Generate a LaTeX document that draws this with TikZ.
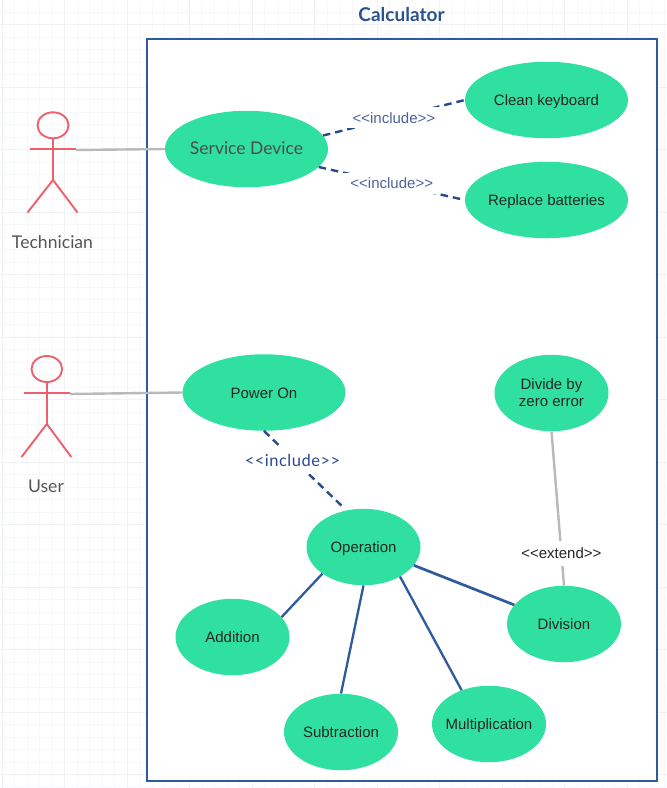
\documentclass[tikz,border=0pt]{standalone}
\usepackage{fontspec}
\setmainfont{Liberation Sans}
\newfontfamily\latofont{Lato}
\newfontfamily\latowide[LetterSpace=3]{Lato}
\usepackage{xcolor}
\definecolor{casegreen}{HTML}{30E0A1}
\definecolor{frameblue}{HTML}{2F5B9E}
\definecolor{dashblue}{HTML}{2A4A8C}
\definecolor{actorred}{HTML}{EF5F6C}
\definecolor{assocgray}{HTML}{B9B9B9}
\definecolor{gridminor}{HTML}{F7F8F9}
\definecolor{gridmajor}{HTML}{F1F2F3}
\definecolor{labelgray}{HTML}{555555}
\tikzset{
  usecase/.style={ellipse,fill=casegreen,inner sep=-12pt,minimum width=114pt,minimum height=76.5pt,
    font=\fontsize{15}{17}\selectfont,align=center,text=black!85,text height=11.5pt,text depth=0pt},
  widecase/.style={usecase,minimum width=163pt},
  actorline/.style={draw=actorred,line width=1.9pt},
  assoc/.style={draw=assocgray,line width=2.4pt},
  inclline/.style={draw=dashblue,line width=2.4pt,dash pattern=on 7.5pt off 5pt},
  genline/.style={draw=frameblue,line width=2.3pt},
  stereo/.style={fill=white,text=dashblue!85,inner xsep=7pt,inner ysep=5pt,font=\fontsize{15}{17}\selectfont},
  actorname/.style={text=labelgray,font=\latofont\fontsize{17.6}{20}\selectfont}
}
\usetikzlibrary{shapes.geometric}
\begin{document}
\begin{tikzpicture}[x=1pt,y=-1pt]
\useasboundingbox (0,0) rectangle (667,788);

% Background grid
\begin{scope}[shift={(2,24.5)}]
    \draw[step=12.5pt,gridminor,line width=0.9pt] (-2,-24.5) grid (665,763.5);
    \draw[step=62.5pt,gridmajor,line width=1pt] (-2,-24.5) grid (665,763.5);
\end{scope}

% System frame
\draw[frameblue,fill=white,line width=2pt] (147,38.5) rectangle (657,781);
\node[text=frameblue!90!black,font=\latofont\bfseries\fontsize{19}{22}\selectfont] (title) at (401.5,15) {Calculator};

% Technician
\begin{scope}[shift={(53,0)}]
    \draw[actorline] (0,125.3) ellipse (15.5 and 13);
    \draw[actorline] (0,138.3) -- (0,180);
    \draw[actorline] (-23,149) -- (23,149);
    \draw[actorline] (-25.5,212.5) -- (0,180) -- (24.5,212.5);
\end{scope}
\coordinate (techarm) at (76,150);
\node[actorname] (technician) at (52.5,242) {Technician};

% User
\begin{scope}[shift={(46.8,0)}]
    \draw[actorline] (0,369) ellipse (15.3 and 13);
    \draw[actorline] (0,382) -- (0,424);
    \draw[actorline] (-23,393) -- (23,393);
    \draw[actorline] (-25.3,457) -- (0,424) -- (24.5,457);
\end{scope}
\coordinate (userarm) at (70,394);
\node[actorname] (user) at (46,486) {User};

% Use cases
\node[widecase,text=labelgray!90!black,font=\latofont\fontsize{17.5}{20}\selectfont] (service) at (246.5,149) {Service Device};
\node[widecase] (clean) at (546.5,100) {Clean keyboard};
\node[widecase] (replace) at (546.5,200) {Replace batteries};
\node[widecase] (power) at (264,392.5) {Power On};
\node[usecase,text height=,text depth=] (divzero) at (551.5,393) {Divide by\\zero error};
\node[usecase] (operation) at (363.5,547) {Operation};
\node[usecase] (addition) at (232.5,637) {Addition};
\node[usecase] (subtraction) at (341,732) {Subtraction};
\node[usecase] (multiplication) at (489,724) {Multiplication};
\node[usecase] (division) at (564,624) {Division};

% Actors to use cases
\draw[assoc] (techarm) -- (service.west);
\draw[assoc] (userarm) -- (power.west);

% Include links
\draw[inclline] (service.10) -- (clean.west) node[stereo,midway] (inclclean) {<{}<include>{}>};
\draw[inclline] (service.-14) -- (replace.west) node[stereo,midway] (inclreplace) {<{}<include>{}>};
\draw[inclline,shorten >=7pt] (power.south) -- (operation.115)
    node[stereo,pos=0.37,xshift=-2pt,text=dashblue,inner ysep=8pt,font=\latowide\fontsize{16.5}{18}\selectfont] (incloperation) {<{}<include>{}>};

% Extend link
\draw[assoc] (divzero.south) -- (division.north)
    node[stereo,pos=0.79,text=black!85,inner ysep=7pt] (extdivision) {<{}<extend>{}>};

% Operation to its kinds
\draw[genline] (operation.213) -- (addition.22);
\draw[genline] (operation.south) -- (subtraction.north);
\draw[genline] (operation.-39) -- (multiplication.129);
\draw[genline,line width=2.7pt] (operation.-20) -- (division.159);
\end{tikzpicture}
\end{document}
